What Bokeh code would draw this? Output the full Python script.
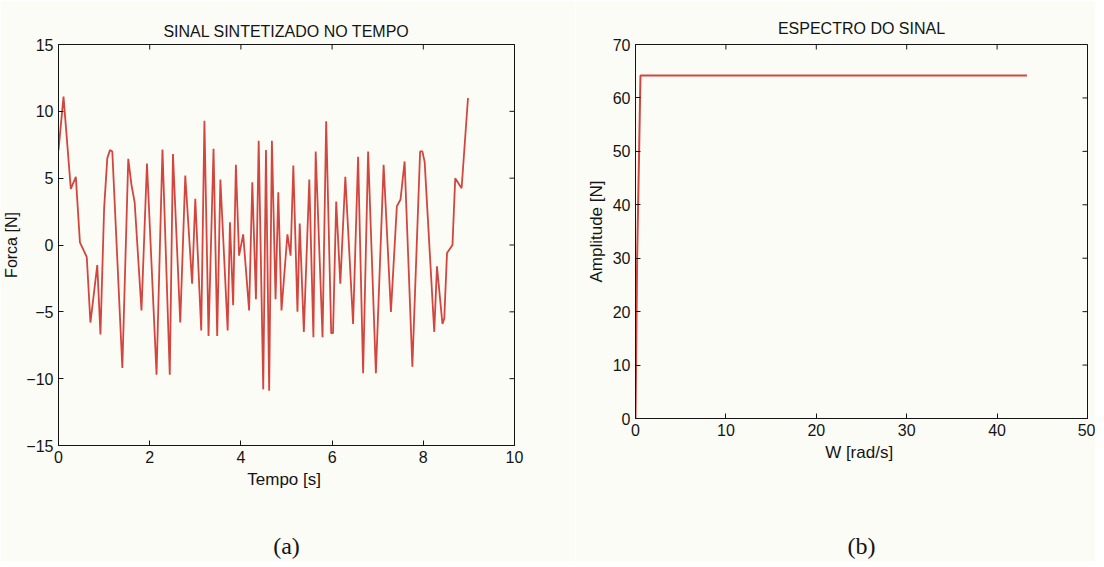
import math
from bokeh.plotting import figure
from bokeh.models import Range1d, FixedTicker, LinearAxis
from bokeh.layouts import row
from bokeh.embed import file_html
from bokeh.resources import INLINE

# ---- data ----
tempo = [0.00, 0.11, 0.27, 0.38, 0.47, 0.62, 0.70, 0.85, 0.92, 1.00, 1.07, 1.13, 1.18,
         1.40, 1.53, 1.60, 1.67, 1.82, 1.94, 2.15, 2.28, 2.44, 2.51, 2.67, 2.78, 2.93,
         3.00, 3.13, 3.20, 3.29, 3.40, 3.48, 3.55, 3.71, 3.76, 3.83, 3.89, 3.96, 4.05,
         4.18, 4.25, 4.33, 4.39, 4.49, 4.55, 4.62, 4.68, 4.76, 4.82, 4.89, 5.02, 5.09,
         5.15, 5.24, 5.29, 5.38, 5.50, 5.59, 5.64, 5.79, 5.87, 5.98, 6.02, 6.09, 6.18,
         6.29, 6.46, 6.57, 6.68, 6.79, 6.96, 7.13, 7.29, 7.42, 7.50, 7.59, 7.76, 7.93,
         7.98, 8.03, 8.24, 8.30, 8.42, 8.46, 8.52, 8.64, 8.70, 8.84, 8.98]
forca = [7.1, 11.1, 4.2, 5.1, 0.2, -0.9, -5.8, -1.5, -6.7, 2.7, 6.5, 7.1, 7.0,
         -9.2, 6.45, 4.5, 3.2, -4.9, 6.1, -9.7, 7.15, -9.7, 6.8, -5.8, 5.2, -2.9,
         3.45, -6.4, 9.3, -6.8, 7.2, -6.8, 4.9, -6.4, 1.7, -4.5, 6.0, -0.8, 0.8,
         -4.9, 4.7, -4.05, 7.8, -10.8, 7.1, -10.9, 7.8, -4.05, 3.95, -4.9, 0.8, -0.8,
         5.95, -5.0, 1.6, -6.5, 4.9, -6.9, 7.0, -6.9, 9.25, -6.6, -6.6, 3.25, -2.9,
         5.1, -5.9, 6.6, -9.6, 7.0, -9.6, 6.0, -5.0, 2.9, 3.4, 6.25, -9.1, 7.0,
         7.0, 6.2, -6.5, -1.6, -5.9, -5.5, -0.6, 0.0, 5.0, 4.25, 11.0]

w_rad = [0.0, 0.05, 0.18, 0.40, 0.55, 43.3]
amplitude = [0.0, 8.0, 30.0, 50.0, 64.2, 64.2]

ticks_t = [0, 2, 4, 6, 8, 10]
ticks_f = [-15, -10, -5, 0, 5, 10, 15]
ticks_w = [0, 10, 20, 30, 40, 50]
ticks_a = [0, 10, 20, 30, 40, 50, 60, 70]

BG = "#fcfcf6"
RED = "#d3453f"
INK = "#141414"
FONT = "Liberation Sans"


def style_axis(ax, ticks):
    ax.ticker = FixedTicker(ticks=ticks)
    ax.major_tick_in = 5
    ax.major_tick_out = 0
    ax.minor_tick_line_color = None
    ax.axis_line_color = INK
    ax.major_tick_line_color = INK
    ax.major_label_text_font = FONT
    ax.major_label_text_color = INK
    ax.major_label_text_font_size = "16px"
    ax.major_label_standoff = 5
    ax.axis_label_text_font = FONT
    ax.axis_label_text_font_size = "17px"
    ax.axis_label_text_font_style = "normal"
    ax.axis_label_text_color = INK
    ax.axis_label_standoff = 4


def make_fig(fw, fh, xr, yr, xt, yt, title, xlabel, ylabel, caption,
             mbl, mbr, ylab_standoff, ylab_size, cap_standoff, title_standoff):
    p = figure(frame_width=fw, frame_height=fh, x_range=Range1d(*xr), y_range=Range1d(*yr),
               output_backend="svg", toolbar_location=None,
               min_border_left=mbl, min_border_right=mbr,
               min_border_top=44, min_border_bottom=10)
    p.background_fill_color = BG
    p.border_fill_color = BG
    p.outline_line_color = INK
    p.grid.visible = False
    p.title.text = title
    p.title.align = "center"
    p.title.text_font = FONT
    p.title.text_font_size = "16px"
    p.title.text_font_style = "normal"
    p.title.text_color = INK
    p.title.standoff = title_standoff
    style_axis(p.xaxis[0], xt)
    style_axis(p.yaxis[0], yt)
    p.xaxis[0].axis_label = xlabel
    p.yaxis[0].axis_label = ylabel
    p.yaxis[0].axis_label_standoff = ylab_standoff
    p.yaxis[0].axis_label_text_font_size = ylab_size
    # inward tick marks on the top and right edges (box on)
    p.scatter(xt, [yr[1]] * len(xt), marker="dash", angle=math.pi / 2, size=10,
              line_color=INK, line_width=1)
    p.scatter([xr[1]] * len(yt), yt, marker="dash", size=10,
              line_color=INK, line_width=1)
    # caption "(a)" / "(b)" below the x axis label
    cap = LinearAxis(ticker=FixedTicker(ticks=[]), axis_label=caption,
                     axis_line_color=None, major_tick_line_color=None,
                     minor_tick_line_color=None,
                     axis_label_text_font="Liberation Serif",
                     axis_label_text_font_size="24px",
                     axis_label_text_font_style="normal",
                     axis_label_text_color=INK,
                     axis_label_standoff=cap_standoff)
    p.add_layout(cap, "below")
    return p


p1 = make_fig(456, 401, (0, 10), (-15, 15), ticks_t, ticks_f,
              "SINAL SINTETIZADO NO TEMPO", "Tempo  [s]", "Forca [N]", "(a)",
              50, 61, 3, "16px", 41, 10)
p1.line(tempo, forca, line_color=RED, line_width=1.8)

p2 = make_fig(452, 374, (0, 50), (0, 70), ticks_w, ticks_a,
              "ESPECTRO DO SINAL", "W  [rad/s]", "Amplitude [N]", "(b)",
              60, 8, 4, "17px", 68, 16)
p2.line(w_rad, amplitude, line_color=RED, line_width=2)

layout = row(p1, p2)
with open("out.html", "w") as f:
    f.write(file_html(layout, INLINE))
